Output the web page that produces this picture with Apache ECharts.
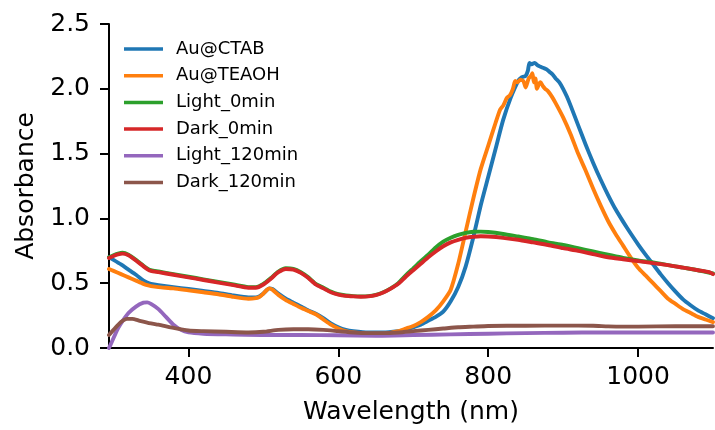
<!DOCTYPE html>
<html>
<head>
<meta charset="utf-8">
<script src="https://cdn.jsdelivr.net/npm/echarts@6/dist/echarts.min.js"></script>
<style>html,body{margin:0;padding:0;background:#fff}#c{width:715px;height:430px}</style>
</head>
<body>
<div id="c"></div>
<script>
const seriesNames = ['Au@CTAB', 'Au@TEAOH', 'Light_0min', 'Dark_0min', 'Light_120min', 'Dark_120min'];
const xTicks = [400, 600, 800, 1000];
const yTicks = [0, 0.5, 1.0, 1.5, 2.0, 2.5];

const wlCTAB = [294,300,310,320,330,340,345,350,360,380,400,420,440,460,480,490,495,500,505,508,512,520,530,540,550,560,570,580,590,600,610,620,640,660,680,690,700,710,720,730,740,750,760,770,780,790,800,810,820,830,840,845,850,853,855,858,862,866,870,874,878,882,886,890,895,900,905,910,920,930,940,950,960,970,980,990,1000,1010,1020,1030,1040,1050,1060,1070,1080,1090,1100];
const absCTAB = [0.70,0.68,0.645,0.605,0.565,0.52,0.505,0.495,0.485,0.47,0.455,0.44,0.425,0.405,0.39,0.39,0.40,0.42,0.45,0.46,0.455,0.42,0.38,0.35,0.32,0.29,0.265,0.23,0.19,0.16,0.14,0.13,0.12,0.12,0.13,0.14,0.16,0.18,0.21,0.24,0.28,0.36,0.47,0.63,0.85,1.10,1.32,1.54,1.76,1.93,2.06,2.09,2.10,2.14,2.20,2.19,2.20,2.18,2.17,2.16,2.15,2.13,2.11,2.08,2.05,2.00,1.94,1.87,1.72,1.57,1.43,1.30,1.18,1.07,0.975,0.885,0.80,0.72,0.645,0.57,0.50,0.435,0.375,0.33,0.29,0.26,0.23];

const wlTEAOH = [294,300,310,320,330,340,345,350,360,380,400,420,440,460,480,490,495,500,505,508,512,520,530,540,550,560,570,580,590,600,610,620,640,660,680,690,700,710,720,730,740,750,760,770,780,790,800,810,816,820,825,829,833,836,839,843,847,850,854,857,859,861,863,865,868,870,873,876,880,885,890,900,910,920,930,940,950,960,970,980,990,1000,1010,1020,1030,1040,1050,1060,1070,1080,1090,1100];
const absTEAOH = [0.61,0.595,0.57,0.545,0.52,0.495,0.485,0.478,0.47,0.46,0.445,0.43,0.415,0.395,0.38,0.385,0.395,0.42,0.45,0.46,0.45,0.41,0.37,0.34,0.31,0.285,0.26,0.22,0.18,0.15,0.13,0.12,0.11,0.11,0.13,0.15,0.17,0.20,0.24,0.29,0.36,0.45,0.65,0.90,1.15,1.38,1.56,1.74,1.84,1.87,1.93,1.95,2.00,2.06,2.05,2.07,2.06,2.01,2.08,2.10,2.12,2.05,2.08,2.00,2.04,2.05,2.02,2.00,1.98,1.94,1.89,1.78,1.65,1.50,1.37,1.23,1.10,0.98,0.88,0.79,0.70,0.62,0.56,0.50,0.44,0.38,0.34,0.30,0.27,0.24,0.22,0.20];

const wlLight0 = [294,300,306,312,320,330,340,346,350,360,380,400,420,440,460,480,490,500,510,520,530,540,550,560,570,580,590,600,610,620,630,640,650,660,670,680,690,700,710,720,730,740,750,760,770,780,790,800,820,840,860,880,900,920,940,960,980,1000,1020,1040,1060,1080,1100];
const absLight0 = [0.70,0.715,0.728,0.735,0.72,0.68,0.635,0.61,0.60,0.59,0.57,0.55,0.53,0.51,0.49,0.47,0.47,0.495,0.54,0.59,0.615,0.61,0.585,0.545,0.495,0.465,0.435,0.415,0.405,0.40,0.398,0.40,0.41,0.43,0.46,0.50,0.56,0.615,0.67,0.72,0.775,0.82,0.85,0.873,0.888,0.897,0.898,0.895,0.88,0.86,0.84,0.815,0.795,0.77,0.745,0.72,0.695,0.675,0.66,0.64,0.62,0.60,0.575];

const wlDark0 = [294,300,306,312,320,330,340,346,350,360,380,400,420,440,460,480,490,500,510,520,530,540,550,560,570,580,590,600,610,620,630,640,650,660,670,680,690,700,710,720,730,740,750,760,770,780,790,800,820,840,860,880,900,920,940,960,980,1000,1020,1040,1060,1080,1095,1100];
const absDark0 = [0.695,0.71,0.722,0.728,0.715,0.675,0.63,0.605,0.595,0.585,0.565,0.545,0.525,0.505,0.485,0.465,0.465,0.49,0.535,0.585,0.61,0.605,0.58,0.54,0.49,0.46,0.43,0.412,0.402,0.398,0.396,0.398,0.408,0.428,0.458,0.495,0.55,0.60,0.65,0.70,0.745,0.785,0.815,0.835,0.85,0.858,0.862,0.86,0.85,0.835,0.815,0.795,0.77,0.75,0.725,0.70,0.685,0.67,0.655,0.64,0.62,0.60,0.585,0.57];

const wlLight120 = [294,298,305,310,320,330,340,345,350,360,370,380,390,400,420,450,500,550,600,650,700,750,800,850,900,950,1000,1050,1100];
const absLight120 = [0.0,0.05,0.14,0.19,0.27,0.32,0.35,0.352,0.34,0.30,0.24,0.18,0.14,0.12,0.11,0.105,0.10,0.10,0.098,0.095,0.10,0.105,0.11,0.115,0.118,0.12,0.12,0.12,0.12];

const wlDark120 = [294,300,310,318,325,335,350,360,380,400,420,450,480,500,520,540,560,580,600,620,640,660,680,700,720,740,760,780,800,850,900,940,960,980,1000,1050,1100];
const absDark120 = [0.10,0.14,0.20,0.225,0.225,0.21,0.19,0.18,0.155,0.135,0.13,0.125,0.12,0.125,0.14,0.145,0.145,0.14,0.13,0.12,0.115,0.115,0.12,0.13,0.14,0.15,0.16,0.165,0.17,0.172,0.173,0.172,0.167,0.165,0.165,0.168,0.168];

const colors = ['#1f77b4', '#ff7f0e', '#2ca02c', '#d62728', '#9467bd', '#8c564b'];
const wls = [wlCTAB, wlTEAOH, wlLight0, wlDark0, wlLight120, wlDark120];
const vals = [absCTAB, absTEAOH, absLight0, absDark0, absLight120, absDark120];

const FONT = 'DejaVu Sans';
const chart = echarts.init(document.getElementById('c'), null, {renderer: 'canvas'});
chart.setOption({
  animation: false,
  backgroundColor: '#fff',
  color: colors,
  grid: {left: 109, right: 2, top: 24, bottom: 79, containLabel: false},
  legend: {
    orient: 'vertical', left: 124, top: 39, padding: 0, itemWidth: 39, itemHeight: 3.5, itemGap: 6.7,
    icon: 'rect',
    textStyle: {fontFamily: FONT, fontSize: 18, color: '#000', lineHeight: 20, padding: [0, 0, 0, 8]},
    data: seriesNames
  },
  xAxis: {
    type: 'value', min: 294, max: 1100,
    name: 'Wavelength (nm)', nameLocation: 'middle', nameGap: 52,
    nameTextStyle: {fontFamily: FONT, fontSize: 25, color: '#000'},
    axisLine: {show: true, onZero: false, lineStyle: {color: '#000', width: 2}},
    axisTick: {show: true, inside: false, length: 9, lineStyle: {color: '#000', width: 2}, customValues: xTicks},
    axisLabel: {fontFamily: FONT, fontSize: 25, color: '#000', margin: 17, customValues: xTicks, formatter: v => String(v)},
    splitLine: {show: false}
  },
  yAxis: {
    type: 'value', min: 0, max: 2.5, interval: 0.5,
    name: 'Absorbance', nameLocation: 'middle', nameGap: 70, nameRotate: 90,
    nameTextStyle: {fontFamily: FONT, fontSize: 25, color: '#000'},
    axisLine: {show: true, lineStyle: {color: '#000', width: 2}},
    axisTick: {show: true, inside: false, length: 9, lineStyle: {color: '#000', width: 2}},
    axisLabel: {fontFamily: FONT, fontSize: 25, color: '#000', margin: 19, formatter: v => v.toFixed(1), customValues: yTicks},
    splitLine: {show: false}
  },
  series: seriesNames.map((n, i) => ({
    name: n, type: 'line', showSymbol: false, symbol: 'none',
    smooth: 0.2, clip: true,
    lineStyle: {width: 3.9, color: colors[i], join: 'round', cap: 'round'},
    data: wls[i].map((x, j) => [x, vals[i][j]])
  }))
});
</script>
</body>
</html>
